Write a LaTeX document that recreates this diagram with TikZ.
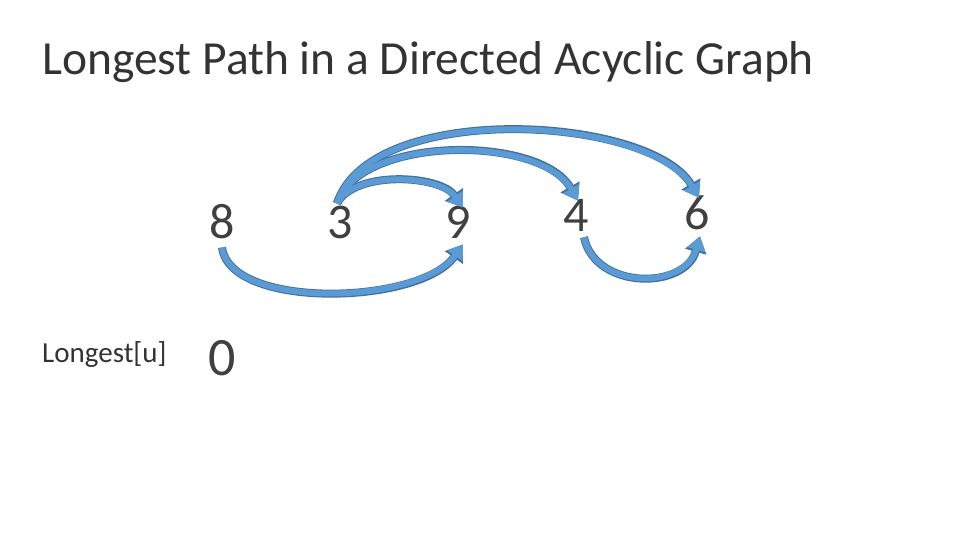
\documentclass[tikz,border=0pt]{standalone}
\usepackage{fontspec}
\setmainfont{Carlito}
\usetikzlibrary{arrows.meta}
\definecolor{ablue}{RGB}{91,155,213}
\definecolor{adark}{RGB}{65,113,156}
\begin{document}
\begin{tikzpicture}[x=1pt,y=-1pt,
  num/.style={font=\fontsize{50}{50}\selectfont, text=black!75, inner sep=0pt},
  barrow/.style={draw=ablue, line width=6pt, -{Triangle[length=14pt,width=18pt]}},
  bedge/.style={draw=adark, line width=8pt, -{Triangle[length=16pt,width=21pt]}}]
\useasboundingbox (0,0) rectangle (960,540);
\node[anchor=west, font=\fontsize{47.5}{48}\selectfont, text=black!80, inner sep=0pt] (title) at (42,62) {Longest Path in a Directed Acyclic Graph};
\node[num] (n8) at (222,222) {8};
\node[num] (n3) at (340,222) {3};
\node[num] (n9) at (458,222) {9};
\node[num] (n4) at (576,215) {4};
\node[num] (n6) at (697,213) {6};
\node[anchor=west, font=\fontsize{29}{29}\selectfont, text=black!80, inner sep=0pt] (lab) at (42,355) {Longest[u]};
\node[num, font=\fontsize{54}{54}\selectfont] (z) at (222,358) {0};
\foreach \s in {bedge,barrow}{
\draw[\s] ([yshift=-8pt]n8.south) .. controls (230,310) and (420,305) .. ([xshift=5pt,yshift=-6pt]n9.south);
\draw[\s] ([xshift=-3pt,yshift=2pt]n3.north) .. controls (355,170) and (440,175) .. ([xshift=5pt,yshift=-2pt]n9.north);
\draw[\s] ([xshift=-3pt,yshift=2pt]n3.north) .. controls (360,135) and (540,135) .. ([xshift=2pt,yshift=-2pt]n4.north);
\draw[\s] ([xshift=-3pt,yshift=2pt]n3.north) .. controls (370,100) and (650,115) .. ([xshift=2pt,yshift=-2pt]n6.north);
\draw[\s] ([xshift=8pt,yshift=-6pt]n4.south) .. controls (595,290) and (685,290) .. ([xshift=3pt,yshift=-6pt]n6.south);
}
\end{tikzpicture}
\end{document}
